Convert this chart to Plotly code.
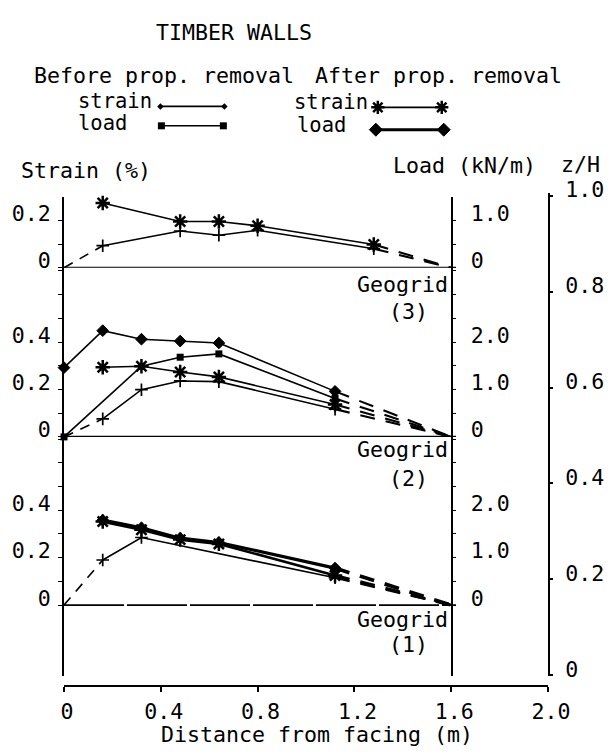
import plotly.graph_objects as go

# ------------------------------------------------------------------ data
GRID_LENGTH = 1.6  # m, measured curves are extrapolated (dashed) to zero here

G3_BEFORE_STRAIN_X = [0.0, 0.16, 0.48, 0.64, 0.80, 1.28]
G3_BEFORE_STRAIN = [0.0, 0.093, 0.155, 0.137, 0.158, 0.080]
G3_AFTER_STRAIN_X = [0.16, 0.48, 0.64, 0.80, 1.28]
G3_AFTER_STRAIN = [0.273, 0.195, 0.195, 0.177, 0.098]

G2_BEFORE_STRAIN_X = [0.0, 0.16, 0.32, 0.48, 0.64, 1.12]
G2_BEFORE_STRAIN = [0.0, 0.076, 0.199, 0.236, 0.233, 0.117]
G2_BEFORE_LOAD_X = [0.0, 0.32, 0.48, 0.64, 1.12]
G2_BEFORE_LOAD = [0.0, 1.49, 1.68, 1.75, 0.81]
G2_AFTER_STRAIN_X = [0.16, 0.32, 0.48, 0.64, 1.12]
G2_AFTER_STRAIN = [0.294, 0.298, 0.274, 0.253, 0.137]
G2_AFTER_LOAD_X = [0.0, 0.16, 0.32, 0.48, 0.64, 1.12]
G2_AFTER_LOAD = [1.46, 2.24, 2.06, 2.02, 1.98, 0.96]

G1_BEFORE_STRAIN_X = [0.0, 0.16, 0.32, 1.12]
G1_BEFORE_STRAIN = [0.0, 0.19, 0.285, 0.115]
G1_AFTER_STRAIN_X = [0.16, 0.32, 0.48, 0.64, 1.12]
G1_AFTER_STRAIN = [0.352, 0.318, 0.276, 0.258, 0.125]
G1_AFTER_LOAD_X = [0.16, 0.32, 0.48, 0.64, 1.12]
G1_AFTER_LOAD = [1.79, 1.63, 1.41, 1.32, 0.78]

X_TICKS = [0, 0.4, 0.8, 1.2, 1.6, 2.0]
X_TICK_LABELS = ["0", "0.4", "0.8", "1.2", "1.6", "2.0"]
ZH_TICKS = [0, 0.2, 0.4, 0.6, 0.8, 1.0]
ZH_TICK_LABELS = ["0", "0.2", "0.4", "0.6", "0.8", "1.0"]
STRAIN_TICKS_TOP = [0, 0.1, 0.2]
STRAIN_LABELS_TOP = ["0", "", "0.2"]
STRAIN_TICKS = [0, 0.1, 0.2, 0.3, 0.4, 0.5, 0.6, 0.7]
STRAIN_LABELS = ["0", "", "0.2", "", "0.4", "", "", ""]
LOAD_TICKS_TOP = [0, 0.5, 1.0]
LOAD_LABELS_TOP = ["0", "", "1.0"]
LOAD_TICKS = [0, 0.5, 1.0, 1.5, 2.0, 2.5, 3.0, 3.5]
LOAD_LABELS = ["0", "", "1.0", "", "2.0", "", "", ""]

# ------------------------------------------------------------------ layout geometry
KX = 1.0277
W, H = round(614 * KX), 754
FONT = "DejaVu Sans Mono"
FS = 21.6
X0_PX, X1_PX = 61, 553
XAXIS_PY = 690
LOAD_AXIS_PX = 455
STRAIN_PX = 244.0      # px per 1 % strain
LOAD_PER_STRAIN = 5.0  # 1 kN/m drawn at 0.2 %
ZH0_PY, ZH1_PY = 679, 186


def fx(px):
    return px * KX / W


def fy(py):
    return 1 - py / H


# (bottom px, top px, baseline px) for geogrid 3, 2, 1
PANELS = {3: (260, 187, 260), 2: (434, 260, 434), 1: (680, 434, 607)}
STRAIN_AX = {3: "y", 2: "y2", 1: "y3"}
LOAD_AX = {3: "y4", 2: "y5", 1: "y6"}

fig = go.Figure()

MK = {
    "bs": dict(symbol="cross-thin-open", size=9, color="black", line=dict(color="black", width=1.7)),
    "bl": dict(symbol="square", size=7, color="black"),
    "as": dict(symbol="asterisk-open", size=12, color="black", line=dict(color="black", width=2.5)),
    "al": dict(symbol="diamond", size=9, color="black", line=dict(color="black", width=1)),
}
TAIL_DASH = "15px,11px"


def add_series(xs, ys, yax, mk, width=1.6, dashed_start=False, tail=True):
    common = dict(xaxis="x", yaxis=yax, hoverinfo="skip", showlegend=False, cliponaxis=False)
    start = 0
    if dashed_start:
        fig.add_trace(go.Scatter(x=xs[:2], y=ys[:2], mode="lines",
                                 line=dict(color="black", width=width, dash="10px,8px"), **common))
        start = 1
    fig.add_trace(go.Scatter(x=xs[start:], y=ys[start:], mode="lines+markers",
                             line=dict(color="black", width=width), marker=MK[mk], **common))
    if tail:
        fig.add_trace(go.Scatter(x=[xs[-1], GRID_LENGTH], y=[ys[-1], 0], mode="lines",
                                 line=dict(color="black", width=width + 0.5, dash=TAIL_DASH), **common))


# geogrid 3
add_series(G3_BEFORE_STRAIN_X, G3_BEFORE_STRAIN, STRAIN_AX[3], "bs", dashed_start=True)
add_series(G3_AFTER_STRAIN_X, G3_AFTER_STRAIN, STRAIN_AX[3], "as")
# geogrid 2
add_series(G2_BEFORE_STRAIN_X, G2_BEFORE_STRAIN, STRAIN_AX[2], "bs", dashed_start=True)
add_series(G2_BEFORE_LOAD_X, G2_BEFORE_LOAD, LOAD_AX[2], "bl")
add_series(G2_AFTER_STRAIN_X, G2_AFTER_STRAIN, STRAIN_AX[2], "as")
add_series(G2_AFTER_LOAD_X, G2_AFTER_LOAD, LOAD_AX[2], "al")
# geogrid 1
add_series(G1_BEFORE_STRAIN_X, G1_BEFORE_STRAIN, STRAIN_AX[1], "bs", dashed_start=True)
add_series(G1_AFTER_STRAIN_X, G1_AFTER_STRAIN, STRAIN_AX[1], "as", width=2.6)
add_series(G1_AFTER_LOAD_X, G1_AFTER_LOAD, LOAD_AX[1], "al", width=3.2)

# keep empty load axis of geogrid 3 and z/H axis alive
fig.add_trace(go.Scatter(x=[0], y=[0], xaxis="x", yaxis=LOAD_AX[3], mode="markers",
                         marker=dict(opacity=0), hoverinfo="skip", showlegend=False))
fig.add_trace(go.Scatter(x=[0], y=[0], xaxis="x", yaxis="y7", mode="markers",
                         marker=dict(opacity=0), hoverinfo="skip", showlegend=False))

# ------------------------------------------------------------------ legend samples (overlay in picture pixels)
LEG = [
    ((159, 224), 94, "bs", 1.6, 5),
    ((160, 223), 114, "bl", 1.6, 7),
    ((380, 445), 95, "as", 1.6, 11),
    ((378, 447), 118, "al", 3.0, 10),
]
for (xa, xb), yy, mk, lw, sz in LEG:
    m = dict(MK[mk])
    m["size"] = sz
    if mk == "bs":
        m = dict(symbol="diamond", size=sz, color="black")
    fig.add_trace(go.Scatter(x=[xa, xb], y=[yy, yy], xaxis="x2", yaxis="y8", mode="lines+markers",
                             line=dict(color="black", width=lw), marker=m,
                             hoverinfo="skip", showlegend=False))

# ------------------------------------------------------------------ axes
tickfont = dict(family=FONT, size=FS, color="black")
layout_axes = {}
layout_axes["xaxis"] = dict(
    domain=[fx(X0_PX), fx(X1_PX)], range=[0, 2.0], anchor="free", position=fy(XAXIS_PY),
    showline=True, linecolor="black", linewidth=1.7, ticks="outside", ticklen=5, tickwidth=1.5,
    tickcolor="black", tickvals=X_TICKS, ticktext=X_TICK_LABELS, tickfont=tickfont,
    showgrid=False, zeroline=False, ticklabelstandoff=1, ticklabelshift=3,
)
layout_axes["xaxis2"] = dict(domain=[0, 1], range=[0, W / KX], anchor="y8", visible=False)
layout_axes["yaxis8"] = dict(domain=[0, 1], range=[H, 0], anchor="x2", visible=False)

names = {3: "yaxis", 2: "yaxis2", 1: "yaxis3"}
lnames = {3: "yaxis4", 2: "yaxis5", 1: "yaxis6"}
for g, (bot, top, base) in PANELS.items():
    dom = [fy(bot), fy(top)]
    srange = [(base - bot) / STRAIN_PX, (base - top) / STRAIN_PX]
    st = STRAIN_TICKS_TOP if g == 3 else STRAIN_TICKS
    sl = STRAIN_LABELS_TOP if g == 3 else STRAIN_LABELS
    lt = LOAD_TICKS_TOP if g == 3 else LOAD_TICKS
    ll = LOAD_LABELS_TOP if g == 3 else LOAD_LABELS
    layout_axes[names[g]] = dict(
        domain=dom, range=srange, anchor="x", side="left",
        showline=True, linecolor="black", linewidth=1.7, ticks="outside", ticklen=4,
        tickwidth=1.3, tickcolor="black", tickvals=st, ticktext=sl, tickfont=tickfont,
        showgrid=False, zeroline=False, ticklabelshift=-7, ticklabelstandoff=3,
    )
    layout_axes[lnames[g]] = dict(
        domain=dom, range=[v * LOAD_PER_STRAIN for v in srange], anchor="free",
        overlaying=STRAIN_AX[g], position=fx(LOAD_AXIS_PX), side="right",
        showline=True, linecolor="black", linewidth=1.7, ticks="outside", ticklen=4,
        tickwidth=1.3, tickcolor="black", tickvals=lt, ticktext=ll, tickfont=tickfont,
        showgrid=False, zeroline=False, ticklabelshift=-7, ticklabelstandoff=10,
    )

layout_axes["yaxis7"] = dict(
    domain=[fy(680), fy(183)],
    range=[(ZH0_PY - 680) / (ZH0_PY - ZH1_PY), (ZH0_PY - 183) / (ZH0_PY - ZH1_PY)],
    anchor="x", side="right", showline=True, linecolor="black", linewidth=1.9,
    ticks="outside", ticklen=3, tickwidth=1.5, tickcolor="black",
    tickvals=ZH_TICKS, ticktext=ZH_TICK_LABELS, tickfont=tickfont,
    showgrid=False, zeroline=False, ticklabelshift=-6, ticklabelstandoff=8,
)

# ------------------------------------------------------------------ baselines of each geogrid
shapes = []
for g in (3, 2, 1):
    shapes.append(dict(type="line", xref="x", yref=STRAIN_AX[g], x0=0, x1=1.62, y0=0, y1=0,
                       line=dict(color="black", width=2.1 if g != 1 else 1.7,
                                 dash="solid" if g != 1 else "60px,3px")))

# ------------------------------------------------------------------ texts
def ann(text, px, py, xanchor="left", size=FS):
    return dict(text=text, x=fx(px), y=fy(py), xref="paper", yref="paper",
                xanchor=xanchor, yanchor="middle", showarrow=False,
                font=dict(family=FONT, size=size, color="black"))


annotations = [
    ann("TIMBER WALLS", 234, 18, "center"),
    ann("Before prop. removal", 28, 62),
    ann("After prop. removal", 314, 62),
    ann("strain", 73, 88, size=20.5),
    ann("load", 73, 111, size=20.5),
    ann("strain", 293, 89, size=20.5),
    ann("load", 296, 113, size=20.5),
    ann("Strain (%)", 15, 160),
    ann("Load (kN/m)", 393, 155),
    ann("z/H", 564, 154),
    ann("Geogrid", 453, 277, "right"),
    ann("(3)", 411, 305, "center"),
    ann("Geogrid", 453, 447, "right"),
    ann("(2)", 411, 477, "center"),
    ann("Geogrid", 453, 622, "right"),
    ann("(1)", 411, 648, "center"),
    ann("Distance from facing (m)", 318, 740, "center"),
]

fig.update_layout(
    width=W, height=H, autosize=False, margin=dict(l=0, r=0, t=0, b=0),
    paper_bgcolor="white", plot_bgcolor="rgba(0,0,0,0)",
    font=dict(family=FONT, size=FS, color="black"),
    shapes=shapes, annotations=annotations, showlegend=False,
    **layout_axes,
)

POST = (
    "document.documentElement.style.margin='0px';"
    "document.body.style.margin='0px';"
    "document.body.style.overflow='hidden';"
)

fig.write_html("out.html", config={"displayModeBar": False}, post_script=POST)
